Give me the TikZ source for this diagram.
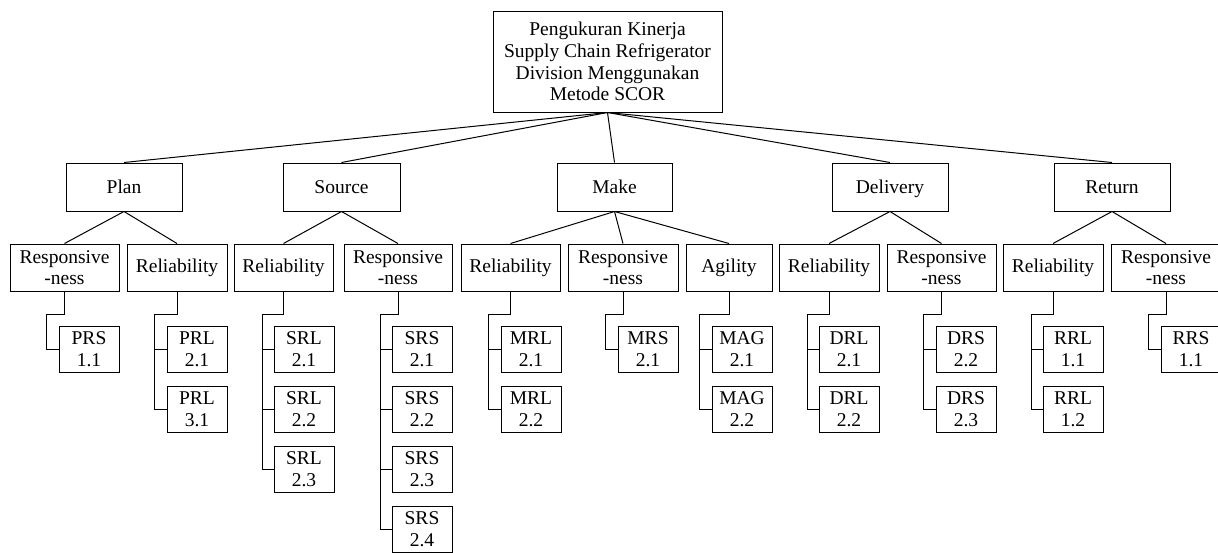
\documentclass[tikz,border=0pt]{standalone}
\usepackage{fontspec}
\setmainfont{Liberation Serif}
\begin{document}
\begin{tikzpicture}[x=1pt,y=-1pt,
  every node/.style={font=\fontsize{19.5}{21.7}\selectfont},
  bx/.style={draw, line width=1pt, inner sep=0pt, align=center},
  top/.style={bx, minimum width=229pt, minimum height=101pt},
  lvone/.style={bx, minimum height=48pt, text height=13pt, text depth=0pt},
  lvtwo/.style={bx, minimum height=47pt},
  leaf/.style={bx, minimum width=60pt, minimum height=46pt},
  conn/.style={line width=1pt}]
\useasboundingbox (0,0) rectangle (1218,552);
\clip (0,0) rectangle (1218,552);
\fill[white] (0,0) rectangle (1218,552);

% top
\node[top] (T) at (607.5,61.5) {Pengukuran Kinerja\\Supply Chain Refrigerator\\Division Menggunakan\\Metode SCOR};

% level 1
\node[lvone, minimum width=116pt] (plan) at (124,187) {Plan};
\node[lvone, minimum width=117pt] (source) at (341.5,187) {Source};
\node[lvone, minimum width=115pt] (make) at (614.5,187) {Make};
\node[lvone, minimum width=116pt] (deliv) at (890,187) {Delivery};
\node[lvone, minimum width=116pt] (ret) at (1112,187) {Return};

% level 2
\node[lvtwo, minimum width=109pt] (pres) at (64.5,267.5) {Responsive\\-ness};
\node[lvtwo, minimum width=100pt] (prel) at (177,267.5) {Reliability};
\node[lvtwo, minimum width=99pt] (srel) at (283.5,267.5) {Reliability};
\node[lvtwo, minimum width=108pt] (sres) at (398,267.5) {Responsive\\-ness};
\node[lvtwo, minimum width=99pt] (mrel) at (510.5,267.5) {Reliability};
\node[lvtwo, minimum width=110pt] (mres) at (623,267.5) {Responsive\\-ness};
\node[lvtwo, minimum width=86pt] (magi) at (729,267.5) {Agility};
\node[lvtwo, minimum width=100pt] (drel) at (829,267.5) {Reliability};
\node[lvtwo, minimum width=109pt] (dres) at (941.5,267.5) {Responsive\\-ness};
\node[lvtwo, minimum width=100pt] (rrel) at (1053,267.5) {Reliability};
\node[lvtwo, minimum width=110pt] (rres) at (1166,267.5) {Responsive\\-ness};

% leaves
\node[leaf] (prs1) at (89,349) {PRS\\1.1};
\node[leaf] (prl1) at (197,349) {PRL\\2.1};
\node[leaf] (prl2) at (197,409) {PRL\\3.1};
\node[leaf] (srl1) at (304,349) {SRL\\2.1};
\node[leaf] (srl2) at (304,409) {SRL\\2.2};
\node[leaf] (srl3) at (304,469) {SRL\\2.3};
\node[leaf] (srs1) at (422,349) {SRS\\2.1};
\node[leaf] (srs2) at (422,409) {SRS\\2.2};
\node[leaf] (srs3) at (422,469) {SRS\\2.3};
\node[leaf] (srs4) at (422,529) {SRS\\2.4};
\node[leaf] (mrl1) at (531,349) {MRL\\2.1};
\node[leaf] (mrl2) at (531,409) {MRL\\2.2};
\node[leaf] (mrs1) at (648,349) {MRS\\2.1};
\node[leaf] (mag1) at (742,349) {MAG\\2.1};
\node[leaf] (mag2) at (742,409) {MAG\\2.2};
\node[leaf] (drl1) at (849,349) {DRL\\2.1};
\node[leaf] (drl2) at (849,409) {DRL\\2.2};
\node[leaf] (drs1) at (966,349) {DRS\\2.2};
\node[leaf] (drs2) at (966,409) {DRS\\2.3};
\node[leaf] (rrl1) at (1073,349) {RRL\\1.1};
\node[leaf] (rrl2) at (1073,409) {RRL\\1.2};
\node[leaf] (rrs1) at (1191,349) {RRS\\1.1};

% top to level 1
\foreach \n in {plan,source,make,deliv,ret}
  \draw[conn] (T.south) -- (\n.north);

% level 1 to level 2
\draw[conn] (pres.north) -- (plan.south) -- (prel.north);
\draw[conn] (srel.north) -- (source.south) -- (sres.north);
\draw[conn] (make.south) -- (mrel.north);
\draw[conn] (make.south) -- (mres.north);
\draw[conn] (make.south) -- (magi.north);
\draw[conn] (drel.north) -- (deliv.south) -- (dres.north);
\draw[conn] (rrel.north) -- (ret.south) -- (rres.north);

% level 2 to leaves
\draw[conn] (pres.south) -- ++(0,23) -| ([xshift=-12pt]prs1.west) -- (prs1.west);
\draw[conn] (prel.south) -- ++(0,23) -| ([xshift=-12pt]prl2.west) -- (prl2.west);
\draw[conn] ([xshift=-12pt]prl1.west) -- (prl1.west);
\draw[conn] (srel.south) -- ++(0,23) -| ([xshift=-11pt]srl3.west) -- (srl3.west);
\foreach \n in {srl1,srl2} \draw[conn] ([xshift=-11pt]\n.west) -- (\n.west);
\draw[conn] (sres.south) -- ++(0,23) -| ([xshift=-11pt]srs4.west) -- (srs4.west);
\foreach \n in {srs1,srs2,srs3} \draw[conn] ([xshift=-11pt]\n.west) -- (\n.west);
\draw[conn] (mrel.south) -- ++(0,23) -| ([xshift=-12pt]mrl2.west) -- (mrl2.west);
\draw[conn] ([xshift=-12pt]mrl1.west) -- (mrl1.west);
\draw[conn] (mres.south) -- ++(0,23) -| ([xshift=-12pt]mrs1.west) -- (mrs1.west);
\draw[conn] (magi.south) -- ++(0,23) -| ([xshift=-12pt]mag2.west) -- (mag2.west);
\draw[conn] ([xshift=-12pt]mag1.west) -- (mag1.west);
\draw[conn] (drel.south) -- ++(0,23) -| ([xshift=-11pt]drl2.west) -- (drl2.west);
\draw[conn] ([xshift=-11pt]drl1.west) -- (drl1.west);
\draw[conn] (dres.south) -- ++(0,23) -| ([xshift=-12pt]drs2.west) -- (drs2.west);
\draw[conn] ([xshift=-12pt]drs1.west) -- (drs1.west);
\draw[conn] (rrel.south) -- ++(0,23) -| ([xshift=-11pt]rrl2.west) -- (rrl2.west);
\draw[conn] ([xshift=-11pt]rrl1.west) -- (rrl1.west);
\draw[conn] (rres.south) -- ++(0,23) -| ([xshift=-12pt]rrs1.west) -- (rrs1.west);
\end{tikzpicture}
\end{document}
